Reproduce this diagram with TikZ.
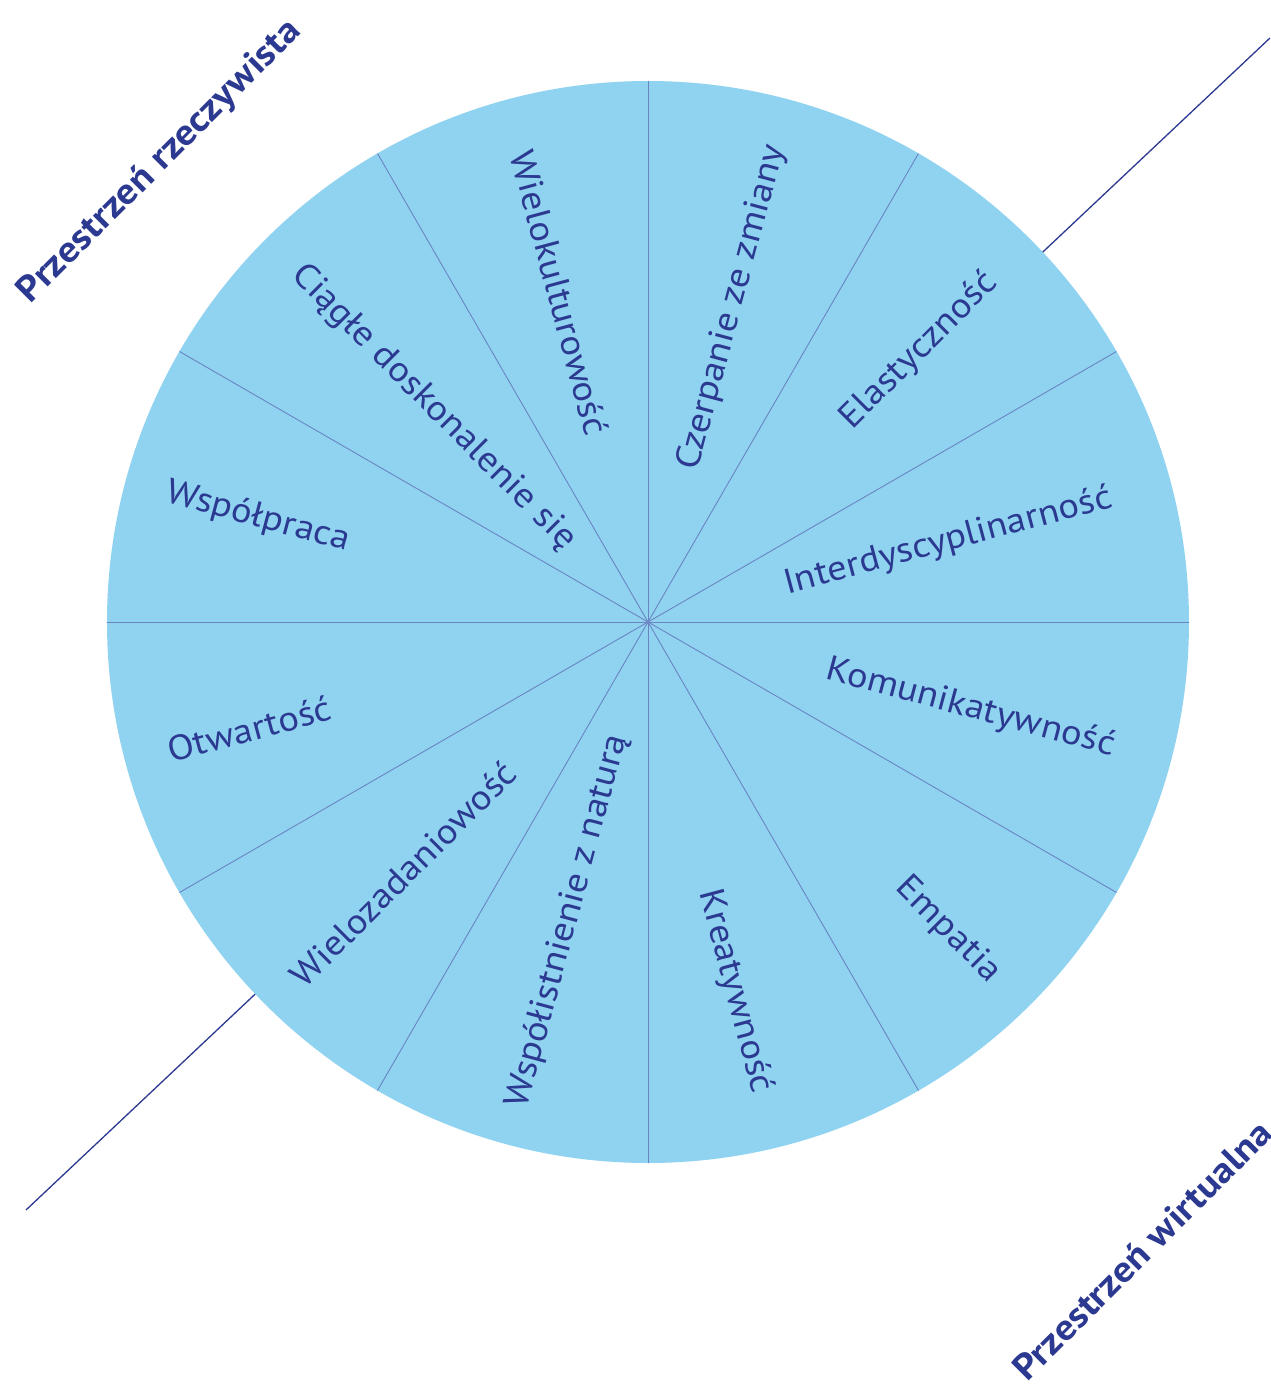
\documentclass[tikz,border=0pt]{standalone}
\usepackage{fontspec}
\usetikzlibrary{calc}
\setmainfont{PT Sans}[FakeStretch=1.1]
\definecolor{wheel}{HTML}{90D3F0}
\definecolor{ink}{HTML}{2B3990}
\definecolor{spoke}{HTML}{6A84C2}
\begin{document}
\begin{tikzpicture}[x=1pt,y=1pt,
  trait/.style={text=ink, font=\fontsize{35}{40}\selectfont, inner sep=0pt},
  outward/.style={trait, anchor=east},
  inward/.style={trait, anchor=west},
  space/.style={text=ink, font=\bfseries\fontsize{36}{42}\selectfont, inner sep=0pt, rotate=45}]
\useasboundingbox (-648,-763) rectangle (623,622);
\clip (-648,-763) rectangle (623,622);

% axis separating the two spaces
\coordinate (ne) at (622,584);
\coordinate (sw) at (-622,-588);
\draw[ink, line width=1.3pt] (ne) -- (sw);

% the wheel and its twelve sectors
\coordinate (c) at (0,0);
\fill[wheel] (c) circle (541);
\foreach \a in {0,30,...,150}
  \draw[spoke, line width=0.9pt] (\a:541) -- (\a+180:541);

% right half: text reads outwards
\node[outward, rotate=75]  (czerpanie) at (75:493)  {Czerpanie ze zmiany};
\node[outward, rotate=45]  (elast)     at (45:487)  {Elastyczność};
\node[outward, rotate=15]  (inter)     at (15:480)  {Interdyscyplinarność};
\node[outward, rotate=-15] (komun)     at (-15:483) {Komunikatywność};
\node[outward, rotate=-45] (empatia)   at ($(-45:503)+(-8,0)$) {Empatia};
\node[outward, rotate=-75] (kreat)     at ($(-75:487)+(-12,0)$) {Kreatywność};

% left half: text reads inwards
\node[inward, rotate=-75] (wielokult) at (105:488) {Wielokulturowość};
\node[inward, rotate=-45] (ciagle)    at (135:497) {Ciągłe doskonalenie się};
\node[inward, rotate=-15] (wspolpr)   at (165:498) {Współpraca};
\node[inward, rotate=15]  (otwart)    at (195:497) {Otwartość};
\node[inward, rotate=45]  (wielozad)  at ($(225:508)+(7,0)$) {Wielozadaniowość};
\node[inward, rotate=75]  (wspolist)  at (255:502) {Współistnienie z naturą};

% the two spaces
\node[space] (real) at (-488,460) {Przestrzeń rzeczywista};
\node[space] (virt) at (494,-628) {Przestrzeń wirtualna};
\end{tikzpicture}
\end{document}
